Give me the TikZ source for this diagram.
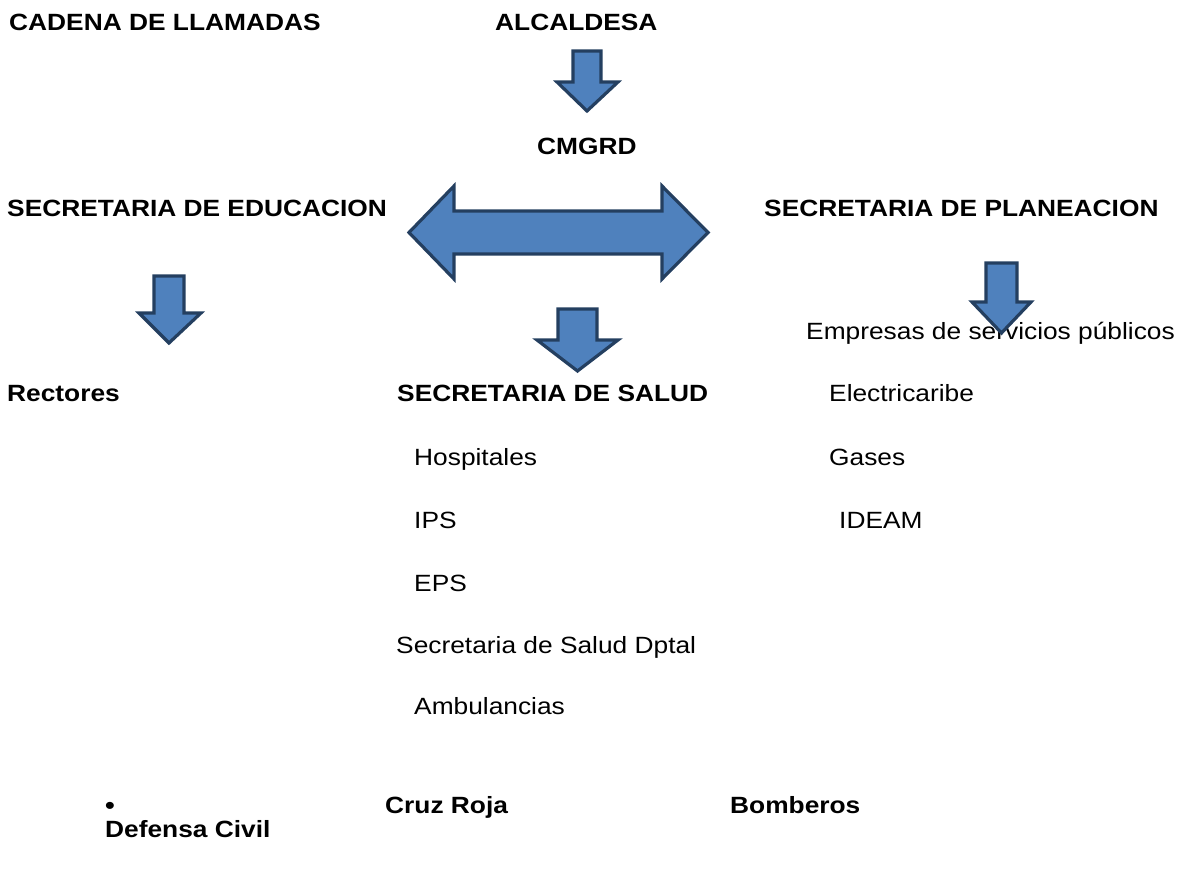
\documentclass[tikz,border=0pt]{standalone}
\usepackage{fontspec}
\setmainfont{Liberation Sans}[FakeStretch=1.12]
\definecolor{afill}{HTML}{4F81BD}
\definecolor{aline}{HTML}{243F60}
\newcommand{\dnarrow}[8]{% xl xr ytop yhead hl hr ytip name
  \draw[arrowshape] (#1,#3) -- (#2,#3) -- (#2,#4) -- (#6,#4) -- ({(#1+#2)/2},#7) coordinate (#8) -- (#5,#4) -- (#1,#4) -- cycle;}
\begin{document}
\begin{tikzpicture}[x=1pt,y=-1pt,
  lbl/.style={anchor=base west,inner sep=0pt,font=\fontsize{23.5}{27}\selectfont},
  blbl/.style={lbl,font=\fontsize{23.5}{27}\selectfont\bfseries},
  arrowshape/.style={fill=afill,draw=aline,line width=3.2pt,line join=miter}]
\useasboundingbox (0,0) rectangle (1187,877);
% texts
\node[blbl] (cad) at (9,31) {CADENA DE LLAMADAS};
\node[blbl] (alc) at (495,31) {ALCALDESA};
\node[blbl] (cmg) at (537,155) {CMGRD};
\node[blbl] (sedu) at (7,217) {SECRETARIA DE EDUCACION};
\node[blbl] (spla) at (764,217) {SECRETARIA DE PLANEACION};
\node[lbl] (emp) at (806,340) {Empresas de servicios públicos};
\node[blbl] (rec) at (7,402) {Rectores};
\node[blbl] (ssal) at (397,402) {SECRETARIA DE SALUD};
\node[lbl] (ele) at (829,402) {Electricaribe};
\node[lbl] (hos) at (414,465) {Hospitales};
\node[lbl] (gas) at (829,465) {Gases};
\node[lbl] (ips) at (414,528) {IPS};
\node[lbl] (ide) at (839,528) {IDEAM};
\node[lbl] (eps) at (414,591) {EPS};
\node[lbl] (ssd) at (396,653) {Secretaria de Salud Dptal};
\node[lbl] (amb) at (414,714) {Ambulancias};
\node[anchor=base,inner sep=0pt,font=\fontsize{26}{26}\selectfont] (bul) at (110,814) {•};
\node[blbl] (cru) at (385,813) {Cruz Roja};
\node[blbl] (bom) at (730,813) {Bomberos};
\node[blbl] (def) at (105,837) {Defensa Civil};
% block arrows
\dnarrow{573}{601}{51}{82}{557}{618}{111}{a1}
\dnarrow{154}{184}{276}{313}{139}{201}{343}{a3}
\dnarrow{558}{597}{309}{340}{537}{618}{371}{a4}
\dnarrow{986}{1017}{263}{302}{972}{1031}{333}{a5}
\draw[arrowshape] (409,232.5) coordinate (dl) -- (454,186) -- (454,211) -- (662,211) -- (662,186)
  -- (708,232.5) coordinate (dr) -- (662,279) -- (662,254) -- (454,254) -- (454,279) -- cycle;
\end{tikzpicture}
\end{document}
